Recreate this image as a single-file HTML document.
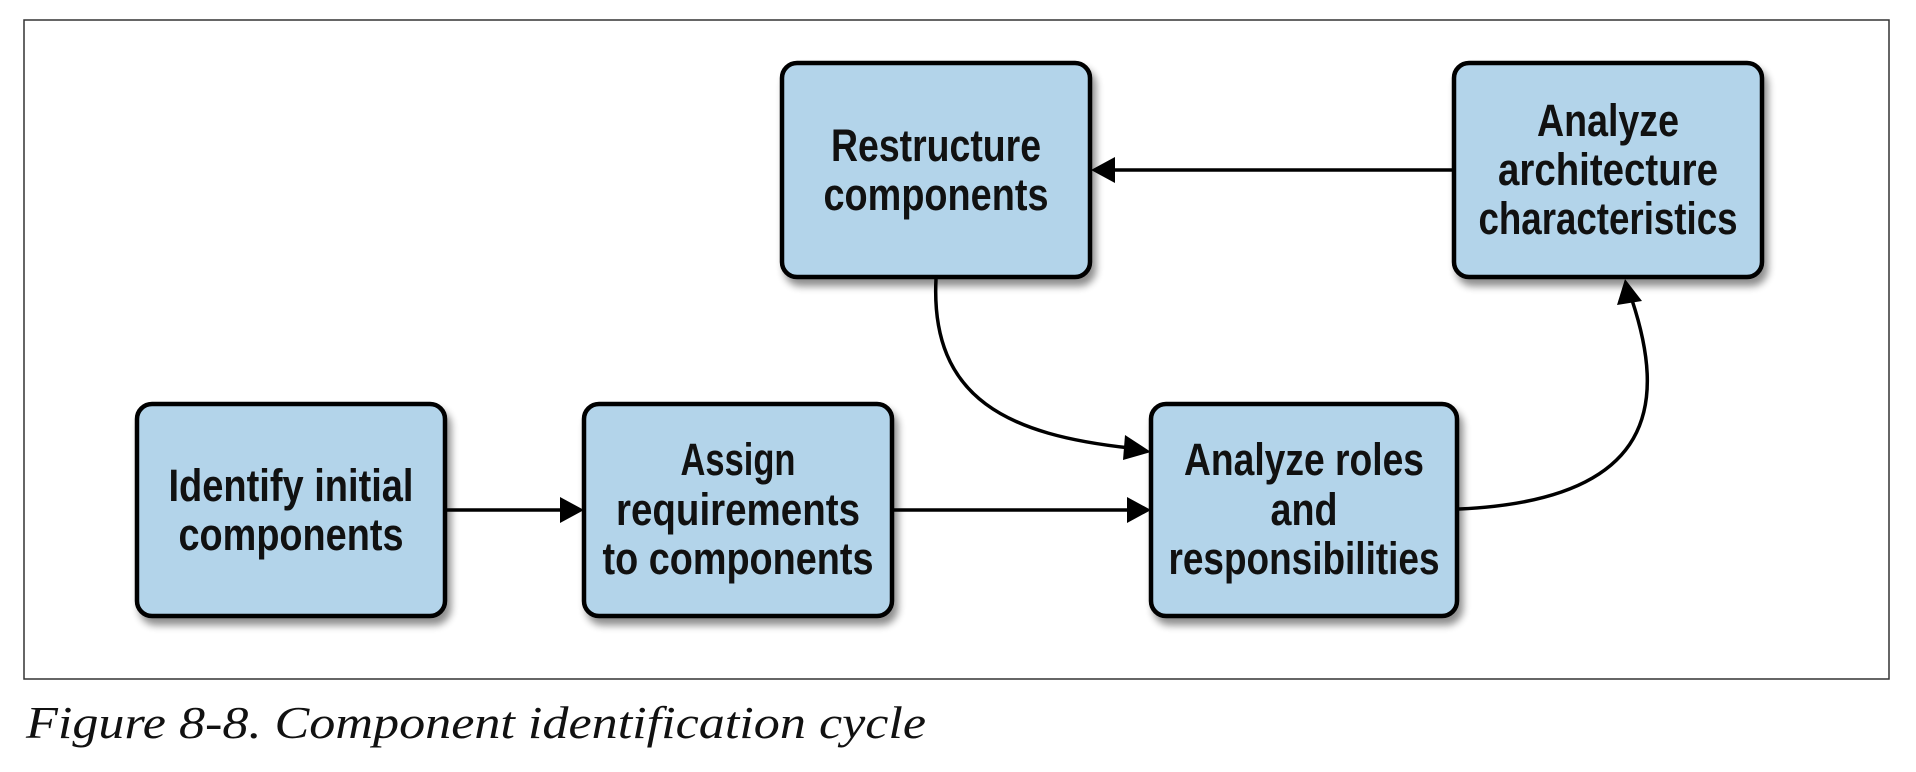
<!DOCTYPE html>
<html><head><meta charset="utf-8"><style>
html,body{margin:0;padding:0;background:#fff;}
svg{display:block;}
.t{font-family:"Liberation Sans",sans-serif;font-size:45px;font-weight:bold;fill:#111;}
.cap{font-family:"Liberation Serif",serif;font-style:italic;font-size:46px;fill:#111;}
</style></head><body>
<svg width="1916" height="772" viewBox="0 0 1916 772" xmlns="http://www.w3.org/2000/svg">
<defs>
<filter id="sh" x="-10%" y="-10%" width="130%" height="130%">
<feGaussianBlur in="SourceAlpha" stdDeviation="4"/>
<feOffset dx="4" dy="7"/>
<feComponentTransfer><feFuncA type="linear" slope="0.45"/></feComponentTransfer>
<feMerge><feMergeNode/><feMergeNode in="SourceGraphic"/></feMerge>
</filter>
</defs>
<rect x="24" y="20" width="1865" height="659" fill="none" stroke="#333" stroke-width="1.5"/>

<g fill="#b3d4ea" stroke="#000" stroke-width="4.5" filter="url(#sh)">
<rect x="137" y="404" width="308" height="212" rx="15"/>
<rect x="584" y="404" width="308" height="212" rx="15"/>
<rect x="1151" y="404" width="306" height="212" rx="15"/>
<rect x="782" y="63" width="308" height="214" rx="15"/>
<rect x="1454" y="63" width="308" height="214" rx="15"/>
</g>

<g stroke="#000" stroke-width="3.5" fill="none">
<line x1="447" y1="510" x2="562" y2="510"/>
<line x1="894" y1="510" x2="1128" y2="510"/>
<line x1="1452" y1="170" x2="1112" y2="170"/>
<path d="M936 279 C 930 400, 1010 435, 1130 448"/>
<path d="M1459 509 C 1660 500, 1665 400, 1632 300"/>
</g>
<g fill="#000">
<polygon points="584,510 560,497 560,523"/>
<polygon points="1151,510 1127,497 1127,523"/>
<polygon points="1091,170 1115,157 1115,183"/>
<polygon points="1151,452 1125,435 1123,460"/>
<polygon points="1625,279 1617,305 1642,301"/>
</g>

<g class="t" text-anchor="middle">
<text x="291" y="501" textLength="245" lengthAdjust="spacingAndGlyphs">Identify initial</text>
<text x="291" y="550" textLength="225" lengthAdjust="spacingAndGlyphs">components</text>
<text x="738" y="475" textLength="115" lengthAdjust="spacingAndGlyphs">Assign</text>
<text x="738" y="525" textLength="244" lengthAdjust="spacingAndGlyphs">requirements</text>
<text x="738" y="574" textLength="271" lengthAdjust="spacingAndGlyphs">to components</text>
<text x="1304" y="475" textLength="240" lengthAdjust="spacingAndGlyphs">Analyze roles</text>
<text x="1304" y="525" textLength="67" lengthAdjust="spacingAndGlyphs">and</text>
<text x="1304" y="574" textLength="271" lengthAdjust="spacingAndGlyphs">responsibilities</text>
<text x="936" y="161" textLength="210" lengthAdjust="spacingAndGlyphs">Restructure</text>
<text x="936" y="210" textLength="225" lengthAdjust="spacingAndGlyphs">components</text>
<text x="1608" y="136" textLength="142" lengthAdjust="spacingAndGlyphs">Analyze</text>
<text x="1608" y="185" textLength="220" lengthAdjust="spacingAndGlyphs">architecture</text>
<text x="1608" y="234" textLength="259" lengthAdjust="spacingAndGlyphs">characteristics</text>
</g>
<text class="cap" x="26" y="738" textLength="900" lengthAdjust="spacingAndGlyphs">Figure 8-8. Component identification cycle</text>
</svg>
</body></html>
